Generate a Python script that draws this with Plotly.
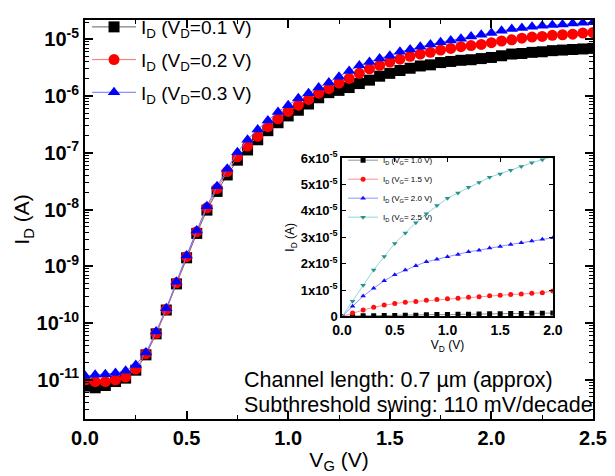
import plotly.graph_objects as go

# ---------------- main transfer curves ----------------
vg = [round(0.05 * i, 2) for i in range(51)]

log_id_01 = [-11.11, -11.14, -11.10, -11.03, -10.97, -10.83, -10.56, -10.19, -9.77, -9.31,
             -8.85, -8.42, -8.01, -7.68, -7.39, -7.13, -6.95, -6.77, -6.61, -6.47,
             -6.35, -6.25, -6.14, -6.03, -5.94, -5.90, -5.85, -5.78, -5.72, -5.65,
             -5.60, -5.55, -5.51, -5.47, -5.45, -5.41, -5.39, -5.37, -5.36, -5.34,
             -5.32, -5.29, -5.26, -5.25, -5.23, -5.22, -5.20, -5.19, -5.18, -5.17, -5.16]
log_id_02 = [-11.01, -11.03, -11.03, -11.00, -10.95, -10.81, -10.54, -10.18, -9.76, -9.29,
             -8.83, -8.39, -7.97, -7.63, -7.33, -7.07, -6.88, -6.71, -6.54, -6.40,
             -6.27, -6.16, -6.06, -5.95, -5.87, -5.77, -5.69, -5.60, -5.52, -5.46,
             -5.40, -5.35, -5.30, -5.26, -5.23, -5.19, -5.16, -5.13, -5.11, -5.09,
             -5.06, -5.03, -5.01, -4.98, -4.96, -4.95, -4.93, -4.92, -4.91, -4.89, -4.88]
log_id_03 = [-10.93, -10.91, -10.90, -10.88, -10.84, -10.74, -10.52, -10.15, -9.74, -9.27,
             -8.81, -8.37, -7.94, -7.59, -7.28, -6.99, -6.77, -6.59, -6.43, -6.28,
             -6.16, -6.04, -5.95, -5.85, -5.76, -5.66, -5.56, -5.46, -5.40, -5.34,
             -5.29, -5.22, -5.18, -5.13, -5.09, -5.05, -5.02, -4.99, -4.95, -4.92,
             -4.89, -4.85, -4.82, -4.80, -4.78, -4.76, -4.75, -4.74, -4.72, -4.71, -4.70]

main_names = ["I<sub>D</sub> (V<sub>D</sub>=0.1 V)",
              "I<sub>D</sub> (V<sub>D</sub>=0.2 V)",
              "I<sub>D</sub> (V<sub>D</sub>=0.3 V)"]
y_tick_exps = [-11, -10, -9, -8, -7, -6, -5]

# ---------------- inset output curves (units of 1e-5 A) ----------------
vd = [round(0.1 * i, 1) for i in range(21)]
id_vg10 = [0, 0.02, 0.03, 0.03, 0.04, 0.04, 0.05, 0.05, 0.06, 0.07, 0.07,
           0.08, 0.08, 0.09, 0.10, 0.10, 0.11, 0.11, 0.12, 0.12, 0.13]
id_vg15 = [0, 0.13, 0.24, 0.35, 0.43, 0.49, 0.54, 0.57, 0.61, 0.64, 0.67,
           0.69, 0.73, 0.75, 0.78, 0.80, 0.83, 0.85, 0.88, 0.90, 0.96]
id_vg20 = [0, 0.39, 0.77, 1.07, 1.35, 1.58, 1.76, 1.92, 2.07, 2.17, 2.26,
           2.35, 2.45, 2.51, 2.59, 2.65, 2.73, 2.79, 2.86, 2.92, 2.98]
id_vg25 = [0, 0.58, 1.18, 1.76, 2.27, 2.76, 3.16, 3.55, 3.89, 4.20, 4.48,
           4.68, 4.89, 5.07, 5.27, 5.40, 5.54, 5.68, 5.82, 5.94, 6.06]
inset_names = ["I<sub>D</sub> (V<sub>G</sub>= 1.0 V)",
               "I<sub>D</sub> (V<sub>G</sub>= 1.5 V)",
               "I<sub>D</sub> (V<sub>G</sub>= 2.0 V)",
               "I<sub>D</sub> (V<sub>G</sub>= 2.5 V)"]
inset_ytick_vals = [0, 1, 2, 3, 4, 5, 6]

annot_lines = ["Channel length: 0.7 \u00b5m (approx)",
               "Subthreshold swing: 110 mV/decade"]

FONT = "Liberation Sans, Arial, sans-serif"

fig = go.Figure()

main_styles = [
    dict(color="black", symbol="square", line="#606060"),
    dict(color="#ff0000", symbol="circle", line="#ff7070"),
    dict(color="#0000ff", symbol="triangle-up", line="#7070ff"),
]
for name, logs, st, grp in zip(main_names, [log_id_01, log_id_02, log_id_03], main_styles, ["a", "b", "c"]):
    fig.add_trace(go.Scatter(
        x=vg, y=[10 ** v for v in logs], name=name, mode="lines+markers",
        legendgroup=grp,
        line=dict(color=st["line"], width=1),
        marker=dict(color=st["color"], symbol=st["symbol"], size=11, line=dict(width=0)),
        xaxis="x", yaxis="y", legend="legend",
    ))

inset_styles = [
    dict(color="black", symbol="square", line="#909090"),
    dict(color="#ff1010", symbol="circle", line="#ff9090"),
    dict(color="#1010ff", symbol="triangle-up", line="#9090ff"),
    dict(color="#2a9090", symbol="triangle-down", line="#90d8d8"),
]
for name, vals, st in zip(inset_names, [id_vg10, id_vg15, id_vg20, id_vg25], inset_styles):
    fig.add_trace(go.Scatter(
        x=vd, y=[v * 1e-5 for v in vals], name=name, mode="lines+markers",
        line=dict(color=st["line"], width=1),
        marker=dict(color=st["color"], symbol=st["symbol"], size=5, line=dict(width=0)),
        xaxis="x2", yaxis="y2", legend="legend2",
    ))

minor_log = [k * 10.0 ** n for n in range(-12, -4) for k in range(2, 10)]

fig.update_layout(
    width=615, height=476,
    margin=dict(l=85, r=22, t=8, b=55),
    paper_bgcolor="white", plot_bgcolor="white",
    font=dict(family=FONT, color="black"),
    xaxis=dict(
        domain=[0, 1], range=[0, 2.5], dtick=0.5, tickformat=".1f",
        ticks="inside", ticklen=8, tickwidth=1.5, tickcolor="black",
        minor=dict(dtick=0.25, ticks="inside", ticklen=4, tickwidth=1, tickcolor="black"),
        showline=True, linecolor="black", linewidth=2, mirror="allticks",
        showgrid=False, zeroline=False,
        tickfont=dict(size=20, weight="bold"),
        title=dict(text="V<sub>G</sub> (V)", font=dict(size=21), standoff=4),
    ),
    yaxis=dict(
        domain=[0, 1], type="log", range=[-11.69, -4.66],
        tickvals=[10.0 ** e for e in y_tick_exps],
        ticktext=["<b>10<sup>%d</sup></b>" % e for e in y_tick_exps],
        ticks="inside", ticklen=8, tickwidth=1.5, tickcolor="black",
        minor=dict(tickvals=minor_log, ticks="inside", ticklen=4, tickwidth=1, tickcolor="black"),
        showline=True, linecolor="black", linewidth=2, mirror="allticks",
        showgrid=False, zeroline=False,
        tickfont=dict(size=20),
        title=dict(text="I<sub>D</sub> (A)", font=dict(size=21), standoff=1),
    ),
    xaxis2=dict(
        domain=[0.506, 0.921], anchor="y2", range=[0, 2.0], dtick=0.5, tickformat=".1f",
        ticks="inside", ticklen=4, tickcolor="black",
        showline=True, linecolor="black", linewidth=1.5, mirror="allticks",
        showgrid=False, zeroline=False,
        tickfont=dict(size=14, weight="bold"),
        title=dict(text="V<sub>D</sub> (V)", font=dict(size=12), standoff=4),
    ),
    yaxis2=dict(
        domain=[0.257, 0.654], anchor="x2", range=[0, 6e-5],
        tickvals=[v * 1e-5 for v in inset_ytick_vals],
        ticktext=["<b>0</b>"] + ["<b>%dx10<sup>-5</sup></b>" % v for v in inset_ytick_vals[1:]],
        ticks="inside", ticklen=4, tickcolor="black",
        showline=True, linecolor="black", linewidth=1.5, mirror="allticks",
        showgrid=False, zeroline=False,
        tickfont=dict(size=13),
        title=dict(text="I<sub>D</sub> (A)", font=dict(size=12), standoff=3),
    ),
    legend=dict(
        x=0.004, y=1.03, xanchor="left", yanchor="top",
        bgcolor="rgba(0,0,0,0)", borderwidth=0,
        font=dict(size=19), tracegroupgap=5, itemwidth=44,
    ),
    legend2=dict(
        x=0.508, y=0.685, xanchor="left", yanchor="top",
        bgcolor="rgba(0,0,0,0)", borderwidth=0,
        font=dict(size=8), tracegroupgap=0, itemwidth=30,
    ),
    showlegend=True,
)

for i, txt in enumerate(annot_lines):
    fig.add_annotation(
        x=0.31, y=0.098 - i * 0.063, xref="paper", yref="paper",
        xanchor="left", yanchor="middle", text=txt, showarrow=False,
        font=dict(size=21.5, family=FONT, color="black"),
    )

fig.write_html("out.html", config={"displayModeBar": False},
               post_script="document.body.style.margin='0px';")
